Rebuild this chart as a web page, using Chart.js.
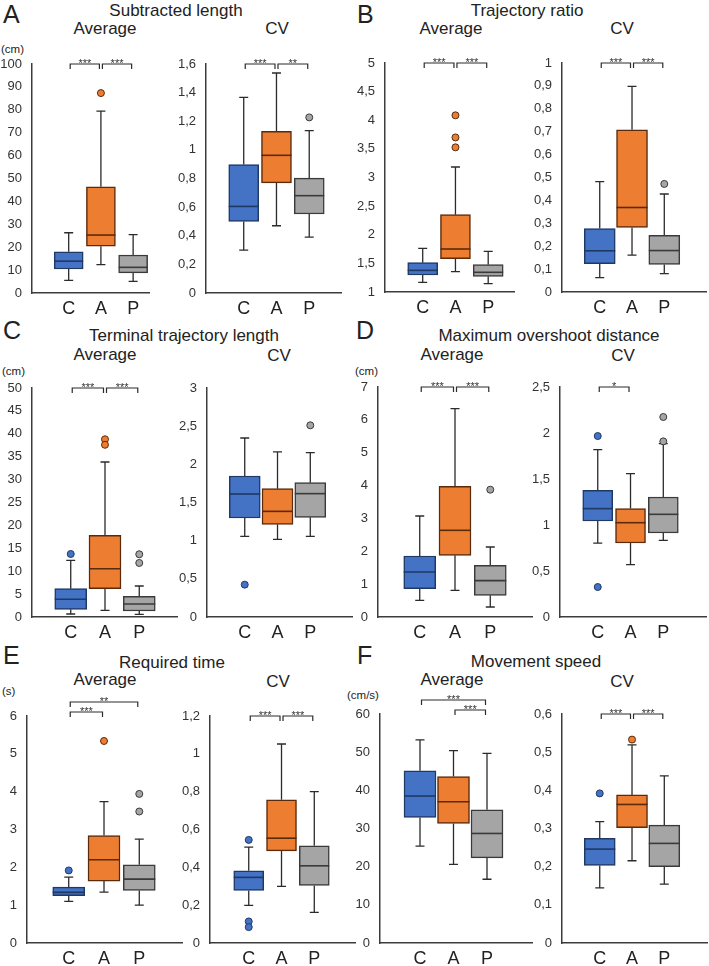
<!DOCTYPE html>
<html>
<head>
<meta charset="utf-8">
<script src="https://cdn.jsdelivr.net/npm/chart.js@4.4.1/dist/chart.umd.min.js"></script>
<style>
  html, body { margin: 0; padding: 0; background: #fff; }
  #page { position: relative; width: 709px; height: 966px; overflow: hidden; background: #fff;
          font-family: "Liberation Sans", Arial, sans-serif; color: #222; }
  #page canvas { position: absolute; }
  .txt { position: absolute; white-space: nowrap; line-height: 1; }
</style>
</head>
<body>
<div id="page"></div>
<script>
const groups = ['C', 'A', 'P'];

// each box: [low whisker, q1, median, q3, high whisker]
// Subtracted length
const subLenAvg = [[5.5, 10.5, 13.9, 18.0, 26.3], [12.4, 20.4, 25.3, 46.4, 79.4], [5.1, 8.8, 11.2, 16.6, 25.5]];
const subLenAvgOut = [[], [87.3], []];
const subLenAvgTicks = [0, 100, 10];
const subLenAvgSig = [[0, 1, '***', 0], [1, 2, '***', 0]];
const subLenCv = [[0.30, 0.50, 0.605, 0.897, 1.367], [0.47, 0.769, 0.962, 1.13, 1.537], [0.39, 0.552, 0.68, 0.803, 1.134]];
const subLenCvOut = [[], [], [1.227]];
const subLenCvTicks = [0, 1.6, 0.2];
const subLenCvSig = [[0, 1, '***', 0], [1, 2, '**', 0]];

// Trajectory ratio
const trajAvg = [[1.169, 1.297, 1.378, 1.512, 1.763], [1.355, 1.582, 1.751, 2.351, 3.183], [1.146, 1.274, 1.344, 1.477, 1.71]];
const trajAvgOut = [[], [4.086, 3.70, 3.527], []];
const trajAvgTicks = [1, 5, 0.5];
const trajAvgSig = [[0, 1, '***', 0], [1, 2, '***', 0]];
const trajCv = [[0.063, 0.124, 0.18, 0.277, 0.482], [0.161, 0.282, 0.369, 0.708, 0.898], [0.08, 0.12, 0.181, 0.248, 0.428]];
const trajCvOut = [[], [], [0.472]];
const trajCvTicks = [0, 1, 0.1];
const trajCvSig = [[0, 1, '***', 0], [1, 2, '***', 0]];

// Terminal trajectory length
const termAvg = [[0.65, 1.67, 3.86, 6.19, 12.37], [1.46, 6.19, 10.55, 17.83, 33.84], [0.58, 1.31, 2.84, 4.51, 6.77]];
const termAvgOut = [[13.76], [38.8, 37.6], [11.8, 13.7]];
const termAvgTicks = [0, 50, 5];
const termAvgSig = [[0, 1, '***', 0], [1, 2, '***', 0]];
const termCv = [[1.057, 1.297, 1.611, 1.847, 2.345], [1.017, 1.214, 1.384, 1.681, 2.162], [1.057, 1.306, 1.616, 1.76, 2.153]];
const termCvOut = [[0.424], [], [2.511]];
const termCvTicks = [0, 3, 0.5];
const termCvSig = [];

// Maximum overshoot distance
const overAvg = [[0.507, 0.862, 1.37, 1.857, 3.074], [0.81, 1.877, 2.638, 3.977, 6.34], [0.304, 0.659, 1.106, 1.572, 2.13]];
const overAvgOut = [[], [], [3.875]];
const overAvgTicks = [0, 7, 1];
const overAvgSig = [[0, 1, '***', 0], [1, 2, '***', 0]];
const overCv = [[0.804, 1.043, 1.178, 1.377, 1.819], [0.569, 0.804, 1.025, 1.178, 1.558], [0.833, 0.913, 1.116, 1.304, 1.884]];
const overCvOut = [[1.967, 0.326], [], [1.909, 2.174]];
const overCvTicks = [0, 2.5, 0.5];
const overCvSig = [[0, 1, '*', 0]];

// Required time
const timeAvg = [[1.10, 1.249, 1.337, 1.478, 1.742], [1.346, 1.636, 2.199, 2.842, 3.739], [1.003, 1.39, 1.689, 2.067, 2.745]];
const timeAvgOut = [[1.918], [5.34], [3.475, 3.941]];
const timeAvgTicks = [0, 6, 1];
const timeAvgSig = [[0, 1, '***', 1], [0, 2, '**', 2]];
const timeCv = [[0.199, 0.278, 0.347, 0.382, 0.507], [0.299, 0.487, 0.554, 0.757, 1.052], [0.162, 0.304, 0.408, 0.514, 0.80]];
const timeCvOut = [[0.545, 0.114, 0.084], [], []];
const timeCvTicks = [0, 1.2, 0.2];
const timeCvSig = [[0, 1, '***', 0], [1, 2, '***', 0]];

// Movement speed
const speedAvg = [[25.4, 32.9, 38.5, 45.1, 53.2], [20.6, 31.3, 37.0, 43.6, 50.4], [16.7, 22.3, 28.7, 34.9, 49.7]];
const speedAvgOut = [[], [], []];
const speedAvgTicks = [0, 60, 10];
const speedAvgSig = [[1, 2, '***', 1], [0, 2, '***', 2]];
const speedCv = [[0.1445, 0.203, 0.246, 0.274, 0.318], [0.2155, 0.302, 0.363, 0.388, 0.519], [0.154, 0.20, 0.261, 0.309, 0.438]];
const speedCvOut = [[0.392], [0.533], []];
const speedCvTicks = [0, 0.6, 0.1];
const speedCvSig = [[0, 1, '***', 0], [1, 2, '***', 0]];

const fills = ['#4472C4', '#ED7D31', '#A5A5A5'];
const edges = ['#1F3864', '#5B2A0B', '#3A3A3A'];
const axisColor = '#3c3c3c';

// at: [axis x, axis top, plot width, plot height]; off: first box from axis; sp: box spacing
const panels = [
  { box: subLenAvg, out: subLenAvgOut, ticks: subLenAvgTicks, sig: subLenAvgSig, at: [32, 64, 118, 229], off: 37, sp: 32.5, bw: 29 },
  { box: subLenCv, out: subLenCvOut, ticks: subLenCvTicks, sig: subLenCvSig, at: [206, 64, 136, 229], off: 38, sp: 33, bw: 30 },
  { box: trajAvg, out: trajAvgOut, ticks: trajAvgTicks, sig: trajAvgSig, at: [385, 63, 130, 229], off: 38, sp: 33, bw: 30 },
  { box: trajCv, out: trajCvOut, ticks: trajCvTicks, sig: trajCvSig, at: [562, 63, 145, 229], off: 38, sp: 32.5, bw: 31 },
  { box: termAvg, out: termAvgOut, ticks: termAvgTicks, sig: termAvgSig, at: [32, 388, 146, 229], off: 39, sp: 34.5, bw: 32 },
  { box: termCv, out: termCvOut, ticks: termCvTicks, sig: termCvSig, at: [207, 388, 146, 229], off: 38, sp: 33, bw: 31 },
  { box: overAvg, out: overAvgOut, ticks: overAvgTicks, sig: overAvgSig, at: [378, 387, 155, 230], off: 42, sp: 35.5, bw: 32 },
  { box: overCv, out: overCvOut, ticks: overCvTicks, sig: overCvSig, at: [560, 387, 147, 230], off: 38, sp: 33, bw: 30 },
  { box: timeAvg, out: timeAvgOut, ticks: timeAvgTicks, sig: timeAvgSig, at: [27, 716, 156, 227], off: 42, sp: 35.5, bw: 32 },
  { box: timeCv, out: timeCvOut, ticks: timeCvTicks, sig: timeCvSig, at: [210, 716, 146, 227], off: 39, sp: 33, bw: 30 },
  { box: speedAvg, out: speedAvgOut, ticks: speedAvgTicks, sig: speedAvgSig, at: [380, 714, 152, 229], off: 40, sp: 33.5, bw: 32 },
  { box: speedCv, out: speedCvOut, ticks: speedCvTicks, sig: speedCvSig, at: [562, 714, 146, 229], off: 38, sp: 32.5, bw: 31 }
];

// text, x, baseline, size, align
const texts = [
  ['A', 3, 23, 25, 'left'], ['B', 357, 23, 25, 'left'],
  ['C', 3, 339, 25, 'left'], ['D', 356, 339, 25, 'left'],
  ['E', 3, 664, 25, 'left'], ['F', 357, 664, 25, 'left'],
  ['Subtracted length', 176, 16, 17, 'center'], ['Trajectory ratio', 527, 16, 17, 'center'],
  ['Terminal trajectory length', 184, 341, 17, 'center'], ['Maximum overshoot distance', 549, 341, 17, 'center'],
  ['Required time', 172, 668, 17, 'center'], ['Movement speed', 536, 667, 17, 'center'],
  ['Average', 105, 34, 17, 'center'], ['CV', 277, 34, 17, 'center'],
  ['Average', 451, 34, 17, 'center'], ['CV', 622, 34, 17, 'center'],
  ['Average', 105, 360, 17, 'center'], ['CV', 279, 361, 17, 'center'],
  ['Average', 452, 360, 17, 'center'], ['CV', 623, 361, 17, 'center'],
  ['Average', 105, 685, 17, 'center'], ['CV', 278, 687, 17, 'center'],
  ['Average', 452, 685, 17, 'center'], ['CV', 622, 687, 17, 'center'],
  ['(cm)', 1, 54, 11.5, 'left'], ['(cm)', 2, 376, 11.5, 'left'], ['(cm)', 355, 376, 11.5, 'left'],
  ['(s)', 2, 696, 11.5, 'left'], ['(cm/s)', 347, 700, 11.5, 'left']
];

Chart.defaults.font.family = '"Liberation Sans", Arial, sans-serif';
Chart.defaults.color = '#333';

const page = document.getElementById('page');

texts.forEach(([str, x, base, fs, align]) => {
  const d = document.createElement('div');
  d.className = 'txt';
  d.textContent = str;
  d.style.fontSize = fs + 'px';
  d.style.top = (base - 0.8465 * fs) + 'px';
  d.style.left = x + 'px';
  if (align === 'center') d.style.transform = 'translateX(-50%)';
  page.appendChild(d);
});

const fmt = v => String(Math.round(v * 1000) / 1000).replace('.', ',');

function boxPlugin(p) {
  return {
    id: 'boxParts',
    beforeDatasetsDraw(chart) {
      const { ctx, scales: { x, y } } = chart;
      ctx.save();
      ctx.strokeStyle = '#2b2b2b';
      ctx.lineWidth = 1.3;
      p.box.forEach((b, i) => {
        const cx = x.getPixelForValue(i + 1);
        ctx.beginPath();
        ctx.moveTo(cx, y.getPixelForValue(b[0]));
        ctx.lineTo(cx, y.getPixelForValue(b[1]));
        ctx.moveTo(cx, y.getPixelForValue(b[3]));
        ctx.lineTo(cx, y.getPixelForValue(b[4]));
        [b[0], b[4]].forEach(v => {
          const py = y.getPixelForValue(v);
          ctx.moveTo(cx - 4.5, py);
          ctx.lineTo(cx + 4.5, py);
        });
        ctx.stroke();
      });
      ctx.restore();
    },
    afterDatasetsDraw(chart) {
      const { ctx, scales: { x, y } } = chart;
      ctx.save();
      ctx.lineWidth = 1.6;
      p.box.forEach((b, i) => {
        const cx = x.getPixelForValue(i + 1);
        const py = y.getPixelForValue(b[2]);
        ctx.strokeStyle = edges[i];
        ctx.beginPath();
        ctx.moveTo(cx - p.bw / 2, py);
        ctx.lineTo(cx + p.bw / 2, py);
        ctx.stroke();
      });
      ctx.restore();
    },
    afterDraw(chart) {
      const { ctx, chartArea, scales: { x } } = chart;
      ctx.save();
      ctx.strokeStyle = '#2b2b2b';
      ctx.fillStyle = '#333';
      ctx.lineWidth = 1.2;
      ctx.font = '11px "Liberation Sans", Arial, sans-serif';
      ctx.textAlign = 'center';
      ctx.textBaseline = 'alphabetic';
      p.sig.forEach(([a, b, label, lvl]) => {
        const top = chartArea.top - [0, 4, 14][lvl];
        const x1 = x.getPixelForValue(a + 1) + 1.5;
        const x2 = x.getPixelForValue(b + 1) - 1.5;
        ctx.beginPath();
        ctx.moveTo(x1, top + 5);
        ctx.lineTo(x1, top);
        ctx.lineTo(x2, top);
        ctx.lineTo(x2, top + 5);
        ctx.stroke();
        ctx.fillText(label, (x1 + x2) / 2, top + 2.5);
      });
      ctx.restore();
    }
  };
}

const yW = 40, padTop = 30, xH = 30, padRight = 4;

panels.forEach(p => {
  const [ax, top, w, h] = p.at;
  const cv = document.createElement('canvas');
  cv.width = yW + w + padRight;
  cv.height = padTop + h + xH;
  cv.style.left = (ax - yW) + 'px';
  cv.style.top = (top - padTop) + 'px';
  page.appendChild(cv);

  const xMin = 1 - p.off / p.sp;
  const xMax = xMin + w / p.sp;

  const boxes = groups.map((g, i) => ({ x: i + 1, y: [p.box[i][1], p.box[i][3]] }));
  const outPts = [], outFill = [], outEdge = [];
  groups.forEach((g, i) => {
    p.out[i].forEach(v => {
      outPts.push({ x: i + 1, y: v });
      outFill.push(fills[i]);
      outEdge.push(edges[i]);
    });
  });

  new Chart(cv, {
    type: 'bar',
    data: {
      datasets: [
        {
          type: 'bar',
          data: boxes,
          backgroundColor: fills,
          borderColor: edges,
          borderWidth: 1.5,
          borderSkipped: false,
          barThickness: p.bw
        },
        {
          type: 'scatter',
          data: outPts,
          backgroundColor: outFill,
          borderColor: outEdge,
          borderWidth: 1,
          pointRadius: 3.5
        }
      ]
    },
    options: {
      responsive: false,
      animation: false,
      layout: { padding: { top: padTop, right: padRight, left: 0, bottom: 0 } },
      plugins: { legend: { display: false }, tooltip: { enabled: false } },
      scales: {
        x: {
          type: 'linear',
          min: xMin,
          max: xMax,
          offset: false,
          grid: { display: false, drawTicks: false },
          border: { display: true, color: axisColor, width: 1.5 },
          afterBuildTicks: scale => { scale.ticks = groups.map((g, i) => ({ value: i + 1 })); },
          afterFit: scale => { scale.height = xH; },
          ticks: {
            autoSkip: false,
            maxRotation: 0,
            padding: 5,
            color: '#222',
            font: { size: 18 },
            callback: v => groups[Math.round(v) - 1]
          }
        },
        y: {
          min: p.ticks[0],
          max: p.ticks[1],
          grid: { display: false, drawTicks: false },
          border: { display: true, color: axisColor, width: 1.5 },
          afterFit: scale => { scale.width = yW; },
          ticks: {
            stepSize: p.ticks[2],
            autoSkip: false,
            padding: 10,
            color: '#333',
            font: { size: 13 },
            callback: v => fmt(v)
          }
        }
      }
    },
    plugins: [boxPlugin(p)]
  });
});
</script>
</body>
</html>
